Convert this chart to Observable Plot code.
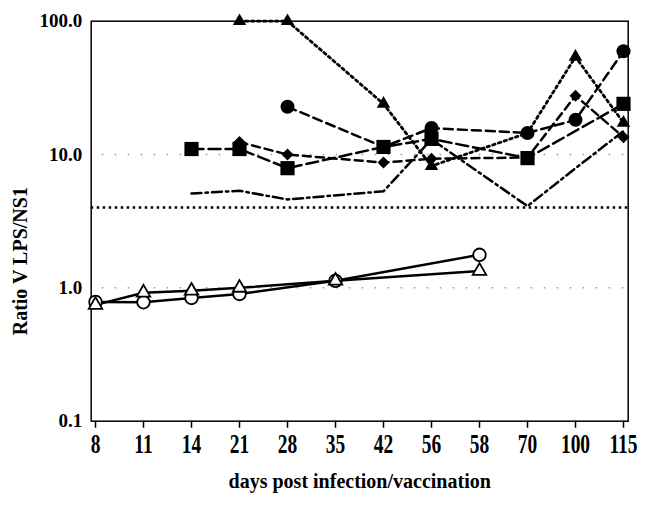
<!DOCTYPE html>
<html><head><meta charset="utf-8">
<script src="https://cdn.jsdelivr.net/npm/d3@7"></script>
<script src="https://cdn.jsdelivr.net/npm/@observablehq/plot@0.6"></script>
<style>body{margin:0;background:#fff}</style>
</head><body><div id="chart"></div>
<script>
// Categorical x axis (evenly spaced day labels)
const days = ["8","11","14","21","28","35","42","56","58","70","100","115"];
const yTicks = [0.1, 1, 10, 100];
const gridValues = [1, 10];
const thresholdValue = [4];

// Filled triangles, dotted line
const triDays = ["21","28","42","56","70","100","115"];
const triVals = [100, 100, 24, 8.2, 14.5, 54, 17.3];
const triHidden = ["70"];
// Filled circles, dashed line
const circDays = ["28","42","56","70","100","115"];
const circVals = [22.8, 11.4, 15.8, 14.5, 18.2, 59.5];
const circHidden = ["42"];
// Filled squares, long-dashed line
const sqDays = ["14","21","28","42","56","70","115"];
const sqVals = [11, 11, 7.9, 11.4, 13.1, 9.4, 24];
// Filled diamonds, dashed line
const diaDays = ["21","28","42","56","70","100","115"];
const diaVals = [12.4, 10, 8.7, 9.3, 9.5, 27.6, 13.5];
const diaHidden = ["70"];
// Dash-dot line, no markers
const ddDays = ["14","21","28","42","56","70","100","115"];
const ddVals = [5.1, 5.35, 4.6, 5.3, 13, 4.1, 7.9, 15];
// Open circles, solid line
const ocDays = ["8","11","14","21","35","58"];
const ocVals = [0.785, 0.78, 0.84, 0.9, 1.13, 1.77];
// Open triangles, solid line
const otDays = ["8","11","14","21","35","58"];
const otVals = [0.745, 0.92, 0.95, 1.0, 1.13, 1.34];

const xLabel = "days post infection/vaccination";
const yLabel = "Ratio V LPS/NS1";

const rows = (xs, ys) => xs.map((d, i) => ({day: d, value: ys[i]}));
const tri = rows(triDays, triVals), circ = rows(circDays, circVals), sq = rows(sqDays, sqVals),
      dia = rows(diaDays, diaVals), dd = rows(ddDays, ddVals), oc = rows(ocDays, ocVals), ot = rows(otDays, otVals);

const lineOpts = (dash, w = 2.5) => ({x: "day", y: "value", stroke: "black", strokeWidth: w, strokeDasharray: dash});

const chart = Plot.plot({
  width: 658, height: 505,
  marginLeft: 90.7, marginRight: 30.3, marginTop: 20.7, marginBottom: 84.3,
  style: {fontFamily: "'Liberation Serif', serif", fontWeight: "bold", fontSize: "19px", background: "white", color: "black"},
  x: {type: "point", domain: days, padding: 0, axis: null},
  y: {type: "log", domain: [0.1, 100], axis: null},
  marks: [
    Plot.ruleY(gridValues, {stroke: "#999", strokeWidth: 1.5, strokeDasharray: "1.5,11.5", strokeDashoffset: 2}),
    Plot.ruleY(thresholdValue, {stroke: "black", strokeWidth: 2.5, strokeDasharray: "2.5,3.5"}),
    Plot.frame({stroke: "black", strokeWidth: 1.5}),
    Plot.axisY({ticks: yTicks, tickFormat: d => d.toFixed(1), tickSize: 0, tickPadding: 9, fontSize: 19, fontWeight: "bold", label: null}),
    Plot.axisX({tickSize: 7, tickPadding: 6, strokeWidth: 1.5, fontSize: 27, fontWeight: "bold", label: null}),
    Plot.line(ot, lineOpts(null, 2.5)),
    Plot.line(oc, lineOpts(null, 2.5)),
    Plot.line(dd, lineOpts("10,4,2.5,4")),
    Plot.line(dia, lineOpts("8,5")),
    Plot.line(sq, lineOpts("12,5")),
    Plot.line(circ, lineOpts("9,5")),
    Plot.line(tri, lineOpts("2.5,3.5", 2.8)),
    Plot.dot(oc, {x: "day", y: "value", r: 6.3, fill: "white", stroke: "black", strokeWidth: 1.8}),
    Plot.dot(ot, {x: "day", y: "value", r: 5, symbol: "triangle", fill: "white", stroke: "black", strokeWidth: 1.8}),
    Plot.dot(dia.filter(d => !diaHidden.includes(d.day)), {x: "day", y: "value", r: 5.4, symbol: "diamond2", fill: "black"}),
    Plot.dot(sq, {x: "day", y: "value", r: 8, symbol: "square", fill: "black"}),
    Plot.dot(circ.filter(d => !circHidden.includes(d.day)), {x: "day", y: "value", r: 7, fill: "black"}),
    Plot.dot(tri.filter(d => !triHidden.includes(d.day)), {x: "day", y: "value", r: 5, symbol: "triangle", fill: "black"}),
    Plot.text([yLabel], {text: d => d, frameAnchor: "left", dx: -64, dy: 40, rotate: -90, lineAnchor: "bottom", textAnchor: "middle", fontSize: 20, fontWeight: "bold", ariaLabel: "ylabel"}),
    Plot.text([xLabel], {text: d => d, frameAnchor: "bottom", dy: 66.3, lineAnchor: "bottom", textAnchor: "middle", fontSize: 20, fontWeight: "bold", ariaLabel: "xlabel"})
  ]
});
document.getElementById("chart").appendChild(chart);

// Match the reference's text proportions
chart.querySelectorAll('g[aria-label="x-axis tick label"] text').forEach(t => {
  t.setAttribute("textLength", (t.getComputedTextLength() * 0.72).toFixed(1));
  t.setAttribute("lengthAdjust", "spacingAndGlyphs");
});
chart.querySelectorAll('g[aria-label="ylabel"] text').forEach(t => {
  t.setAttribute("textLength", 238); t.setAttribute("lengthAdjust", "spacingAndGlyphs");
});
chart.querySelectorAll('g[aria-label="xlabel"] text').forEach(t => {
  t.setAttribute("textLength", 288); t.setAttribute("lengthAdjust", "spacingAndGlyphs");
});
</script>
</body></html>
